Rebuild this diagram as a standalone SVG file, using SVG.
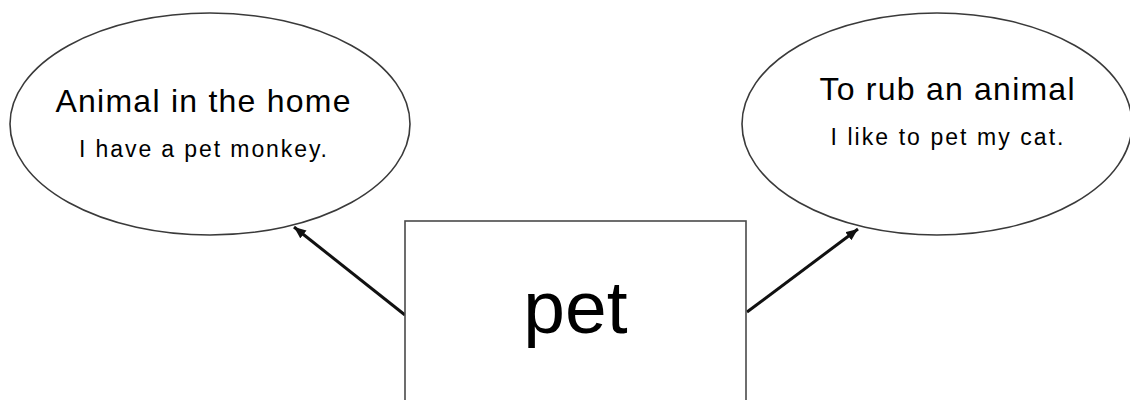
<svg xmlns="http://www.w3.org/2000/svg" width="1130" height="400" viewBox="0 0 1130 400">
<style>
.bubble{fill:#fff;stroke:#3a3a3a;stroke-width:1.6}
.box{fill:#fff;stroke:#4a4a4a;stroke-width:1.6}
.t1{font-family:"Liberation Sans",Arial,sans-serif;font-size:32px;fill:#000;text-anchor:middle}
.t2{font-family:"Liberation Sans",Arial,sans-serif;font-size:23px;fill:#000;text-anchor:middle}
.big{font-family:"Liberation Sans",Arial,sans-serif;font-size:75px;fill:#000;text-anchor:middle}
.conn{stroke:#111;stroke-width:3;fill:none}
</style>
<defs>
<marker id="arr" markerUnits="userSpaceOnUse" markerWidth="14" markerHeight="12" refX="12" refY="5" orient="auto">
<path d="M0,0 L12,5 L0,10 Z" fill="#111"/>
</marker>
</defs>
<g id="connectors">
<line class="conn" x1="405" y1="315" x2="294" y2="227" marker-end="url(#arr)"/>
<line class="conn" x1="747" y1="312" x2="858" y2="229" marker-end="url(#arr)"/>
</g>
<g id="node-left">
<ellipse class="bubble" cx="210" cy="124" rx="200" ry="111"/>
<text class="t1" x="203" y="112" textLength="295" lengthAdjust="spacing">Animal in the home</text>
<text class="t2" x="203" y="157" textLength="248" lengthAdjust="spacing">I have a pet monkey.</text>
</g>
<g id="node-right">
<ellipse class="bubble" cx="937" cy="124" rx="195" ry="111"/>
<text class="t1" x="947" y="100" textLength="255" lengthAdjust="spacing">To rub an animal</text>
<text class="t2" x="947" y="145" textLength="233" lengthAdjust="spacing">I like to pet my cat.</text>
</g>
<g id="node-center">
<rect class="box" x="405" y="221" width="341" height="200"/>
<text class="big" x="575.5" y="333">pet</text>
</g>
</svg>
